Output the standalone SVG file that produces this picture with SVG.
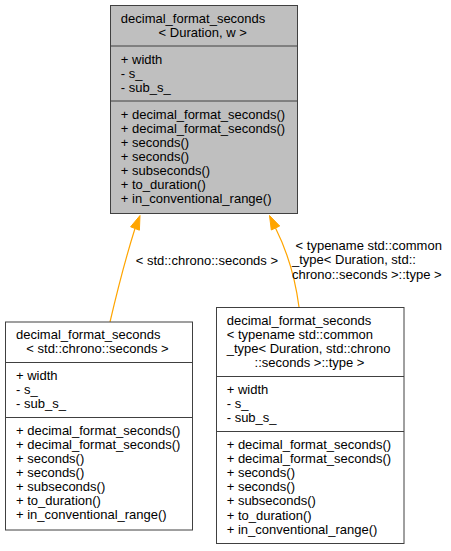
<svg xmlns="http://www.w3.org/2000/svg" width="451" height="551" viewBox="0 0 451 551">
<style>
text{font-family:"Liberation Sans",Arial,sans-serif;font-size:13px;fill:#000}
.c{text-anchor:middle}
.box{stroke:#404040;stroke-width:1}
.sep{stroke:#404040;stroke-width:1}
.edge{fill:none;stroke:#ffa500;stroke-width:1.2}
.head{fill:#ffa500;stroke:#ffa500;stroke-width:1}
</style>
<rect width="451" height="551" fill="#ffffff"/>
<g id="connectors">
<path class="edge" d="M110,322 C117,292 126,257 135,228.5"/>
<polygon class="head" points="140,215.5 139.4,230.2 130.6,226.8"/>
<text x="135.7" y="264.5">&lt; std::chrono::seconds &gt;</text>
<path class="edge" d="M299,307 C296,284 289,255 275.5,228"/>
<polygon class="head" points="269.5,215.5 279.7,226 271.3,230"/>
<text x="295.6" y="249.5">&lt; typename std::common</text>
<text x="292" y="264">_type&lt; Duration, std::</text>
<text x="292" y="278.5">chrono::seconds &gt;::type &gt;</text>
</g>
<g id="node-base">
<rect class="box" x="110.5" y="5.5" width="187" height="208" fill="#bfbfbf"/>
<line class="sep" x1="110.5" y1="46" x2="297.5" y2="46"/>
<line class="sep" x1="110.5" y1="101" x2="297.5" y2="101"/>
<text x="120.8" y="22.5">decimal_format_seconds</text>
<text class="c" x="202.7" y="36.6">&lt; Duration, w &gt;</text>
<text x="120.8" y="63.5">+ width</text>
<text x="120.8" y="77.6">- s_</text>
<text x="120.8" y="91.7">- sub_s_</text>
<text x="120.8" y="118.5">+ decimal_format_seconds()</text>
<text x="120.8" y="132.6">+ decimal_format_seconds()</text>
<text x="120.8" y="146.7">+ seconds()</text>
<text x="120.8" y="160.8">+ seconds()</text>
<text x="120.8" y="174.9">+ subseconds()</text>
<text x="120.8" y="189">+ to_duration()</text>
<text x="120.8" y="203.1">+ in_conventional_range()</text>
</g>
<g id="node-seconds">
<rect class="box" x="5.5" y="322" width="187" height="208" fill="#ffffff"/>
<line class="sep" x1="5.5" y1="362.5" x2="192.5" y2="362.5"/>
<line class="sep" x1="5.5" y1="417.5" x2="192.5" y2="417.5"/>
<text x="16" y="339">decimal_format_seconds</text>
<text class="c" x="97.5" y="353.1">&lt; std::chrono::seconds &gt;</text>
<text x="16" y="380">+ width</text>
<text x="16" y="394.1">- s_</text>
<text x="16" y="408.2">- sub_s_</text>
<text x="16" y="434.5">+ decimal_format_seconds()</text>
<text x="16" y="448.6">+ decimal_format_seconds()</text>
<text x="16" y="462.7">+ seconds()</text>
<text x="16" y="476.8">+ seconds()</text>
<text x="16" y="490.9">+ subseconds()</text>
<text x="16" y="505">+ to_duration()</text>
<text x="16" y="519.1">+ in_conventional_range()</text>
</g>
<g id="node-common">
<rect class="box" x="216.5" y="307.5" width="187.5" height="236" fill="#ffffff"/>
<line class="sep" x1="216.5" y1="376.5" x2="404" y2="376.5"/>
<line class="sep" x1="216.5" y1="431.5" x2="404" y2="431.5"/>
<text x="226.7" y="324.5">decimal_format_seconds</text>
<text x="226.7" y="338.6">&lt; typename std::common</text>
<text x="226.7" y="352.7">_type&lt; Duration, std::chrono</text>
<text class="c" x="309.5" y="366.8">::seconds &gt;::type &gt;</text>
<text x="226.7" y="394">+ width</text>
<text x="226.7" y="408.1">- s_</text>
<text x="226.7" y="422.2">- sub_s_</text>
<text x="226.7" y="449">+ decimal_format_seconds()</text>
<text x="226.7" y="463.1">+ decimal_format_seconds()</text>
<text x="226.7" y="477.2">+ seconds()</text>
<text x="226.7" y="491.3">+ seconds()</text>
<text x="226.7" y="505.4">+ subseconds()</text>
<text x="226.7" y="519.5">+ to_duration()</text>
<text x="226.7" y="533.6">+ in_conventional_range()</text>
</g>
</svg>
